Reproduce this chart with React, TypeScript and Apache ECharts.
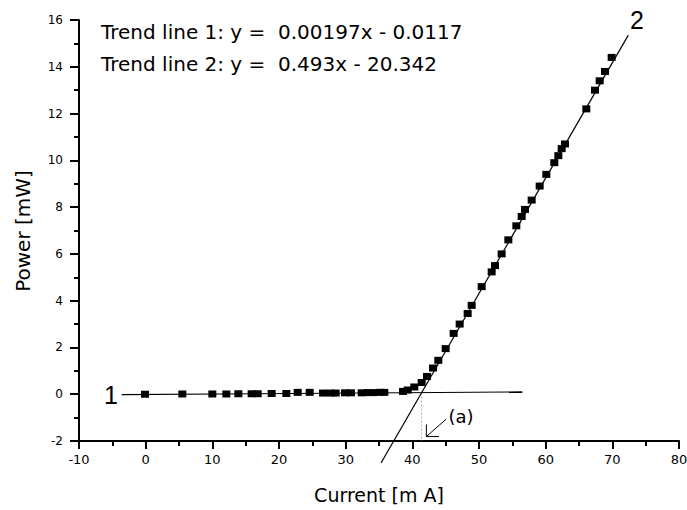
import React, { useEffect, useRef } from "react";
import * as echarts from "echarts";

// Measured laser output: drive current (mA) vs optical power (mW)
const currentMA = [
  -0.1, 5.5, 10.0, 12.1, 13.9, 15.9, 16.8, 18.9, 21.1, 22.8, 24.6, 26.6, 27.7,
  28.5, 29.9, 30.8, 32.4, 33.3, 34.2, 35.1, 35.8, 38.6, 39.3, 40.3, 41.4, 42.2,
  43.1, 43.9, 45.0, 46.2, 47.1, 48.3, 48.9, 50.4, 51.9, 52.4, 53.4, 54.4, 55.6,
  56.4, 56.9, 57.9, 59.1, 60.1, 61.3, 61.9, 62.4, 62.9, 66.1, 67.4, 68.1, 68.9,
  69.9,
];
const powerMW = [
  0.0, 0.01, 0.01, 0.01, 0.02, 0.02, 0.02, 0.03, 0.03, 0.08, 0.08, 0.05, 0.05,
  0.05, 0.06, 0.06, 0.06, 0.07, 0.07, 0.08, 0.08, 0.12, 0.18, 0.31, 0.5, 0.76,
  1.12, 1.45, 1.95, 2.6, 3.0, 3.45, 3.8, 4.6, 5.23, 5.5, 6.0, 6.6, 7.2, 7.6,
  7.9, 8.3, 8.9, 9.4, 9.9, 10.2, 10.5, 10.7, 12.2, 13.0, 13.4, 13.8, 14.4,
];

// Linear fits: below threshold (1) and lasing region (2)
const trend1 = { slope: 0.00197, intercept: -0.0117 };
const trend2 = { slope: 0.493, intercept: -20.342 };
const trend1Span = [-3.6, 56.5];
const trend2Span = [35.3, 72.4];

// Axis ranges
const xRange = { min: -10, max: 80, step: 10 };
const yRange = { min: -2, max: 16, step: 2 };

const FONT = "DejaVu Sans";
const NUM_FONT = "Liberation Sans";

export default function App() {
  const ref = useRef<HTMLDivElement>(null);

  useEffect(() => {
    if (!ref.current) return;
    document.body.style.margin = "0";
    const chart = echarts.init(ref.current, undefined, { renderer: "svg" });

    const fitLine = (fit: { slope: number; intercept: number }, span: number[]) =>
      span.map((x) => [x, fit.slope * x + fit.intercept]);

    // threshold current: where the two fitted lines cross
    const xTh = (trend2.intercept - trend1.intercept) / (trend1.slope - trend2.slope);
    const yTh = trend1.slope * xTh + trend1.intercept;

    // pointer from the "(a)" label down to the threshold on the axis
    const tip = [xTh + 0.7, -1.81];
    const arrowShaft = [tip, [tip[0] + 3.0, -1.06]];
    const arrowHead = [
      [tip[0] + 1.9, tip[1]],
      tip,
      [tip[0], tip[1] + 0.52],
    ];

    const axisCommon = {
      type: "value" as const,
      splitLine: { show: false },
      axisLine: { show: true, onZero: false, lineStyle: { color: "#000", width: 2 } },
    };

    chart.setOption({
      animation: false,
      textStyle: { fontFamily: FONT },
      grid: { left: 79, right: 8, top: 20, bottom: 69, outerBoundsMode: "none" },
      xAxis: {
        ...axisCommon,
        min: xRange.min,
        max: xRange.max,
        interval: xRange.step,
        axisTick: { show: true, inside: false, length: 8, lineStyle: { color: "#000", width: 2 } },
        minorTick: { show: true, splitNumber: 2, length: 5, lineStyle: { color: "#000", width: 2 } },
        axisLabel: { color: "#000", fontSize: 13, margin: 12, fontFamily: FONT },
      },
      yAxis: {
        ...axisCommon,
        min: yRange.min,
        max: yRange.max,
        interval: yRange.step,
        axisTick: { show: true, inside: false, length: 9, lineStyle: { color: "#000", width: 2 } },
        minorTick: { show: true, splitNumber: 2, length: 5, lineStyle: { color: "#000", width: 2 } },
        axisLabel: { color: "#000", fontSize: 12, margin: 16, fontFamily: FONT },
      },
      series: [
        {
          type: "line",
          data: fitLine(trend1, trend1Span),
          symbol: "none",
          clip: false,
          lineStyle: { color: "#000", width: 1.2 },
          z: 2,
        },
        {
          type: "line",
          data: fitLine(trend2, trend2Span),
          symbol: "none",
          clip: false,
          lineStyle: { color: "#000", width: 1.2 },
          z: 2,
        },
        {
          type: "line",
          data: [
            [xTh, yTh],
            [xTh, yRange.min],
          ],
          symbol: "none",
          lineStyle: { color: "#aaa", width: 1, type: [2, 2] },
          z: 1,
        },
        {
          type: "line",
          data: arrowShaft,
          symbol: "none",
          clip: false,
          lineStyle: { color: "#000", width: 1 },
        },
        {
          type: "line",
          data: arrowHead,
          symbol: "none",
          clip: false,
          lineStyle: { color: "#000", width: 1 },
        },
        {
          type: "scatter",
          data: currentMA.map((x, i) => [x, powerMW[i]]),
          symbol: "rect",
          symbolSize: [8, 7],
          itemStyle: { color: "#000", opacity: 1 },
          z: 5,
        },
      ],
      graphic: [
        {
          type: "text",
          x: 101,
          y: 31.5,
          style: {
            text: "Trend line 1: y =  0.00197x - 0.0117",
            fontFamily: FONT,
            fontSize: 20,
            fill: "#000",
            verticalAlign: "middle",
          },
        },
        {
          type: "text",
          x: 101,
          y: 63.5,
          style: {
            text: "Trend line 2: y =  0.493x - 20.342",
            fontFamily: FONT,
            fontSize: 20,
            fill: "#000",
            verticalAlign: "middle",
          },
        },
        {
          type: "text",
          x: 118,
          y: 395,
          style: {
            text: "1",
            fontFamily: NUM_FONT,
            fontSize: 25,
            fill: "#000",
            align: "right",
            verticalAlign: "middle",
          },
        },
        {
          type: "text",
          x: 637,
          y: 20,
          style: {
            text: "2",
            fontFamily: NUM_FONT,
            fontSize: 25,
            fill: "#000",
            align: "center",
            verticalAlign: "middle",
          },
        },
        {
          type: "text",
          x: 461,
          y: 416,
          style: {
            text: "(a)",
            fontFamily: FONT,
            fontSize: 18,
            fill: "#000",
            align: "center",
            verticalAlign: "middle",
          },
        },
        {
          type: "text",
          x: 379,
          y: 495,
          style: {
            text: "Current [m A]",
            fontFamily: FONT,
            fontSize: 19,
            fill: "#000",
            align: "center",
            verticalAlign: "middle",
          },
        },
        {
          type: "text",
          x: 23,
          y: 231,
          rotation: Math.PI / 2,
          style: {
            text: "Power [mW]",
            fontFamily: FONT,
            fontSize: 20,
            fill: "#000",
            align: "center",
            verticalAlign: "middle",
          },
        },
      ],
    });

    return () => chart.dispose();
  }, []);

  return (
    <div
      ref={ref}
      style={{ position: "fixed", left: 0, top: 0, width: 687, height: 510, background: "#fff" }}
    />
  );
}
